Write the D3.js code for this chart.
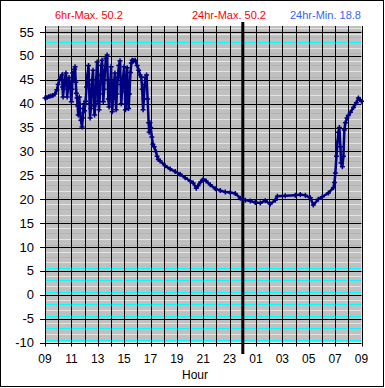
<!DOCTYPE html>
<html>
<head>
<meta charset="utf-8">
<script src="https://cdn.jsdelivr.net/npm/d3@7"></script>
<style>
  body { margin: 0; background: #fff; }
  svg { display: block; font-family: "Liberation Sans", Arial, sans-serif; }
</style>
</head>
<body>
<script>
// hour labels along the bottom (every 2 h, starting 09:00)
const hourLabels = ["09", "11", "13", "15", "17", "19", "21", "23", "01", "03", "05", "07", "09"];
const yTicks = [55, 50, 45, 40, 35, 30, 25, 20, 15, 10, 5, 0, -5, -10];

// header texts
const maxSixHr = 50.2;
const maxDay = 50.2;
const minDay = 18.8;

// readings: hours since 09:00, temperature
const hoursSince9 = [
  0.00, 0.15, 0.30, 0.45, 0.60, 0.75, 0.90, 1.00, 1.10, 1.20, 1.29, 1.33, 1.37, 1.42, 1.50, 1.59, 1.64, 1.68, 1.75, 1.82,
  1.90, 2.00, 2.05, 2.10, 2.18, 2.24, 2.28, 2.33, 2.38, 2.43, 2.48, 2.52, 2.56, 2.60, 2.66, 2.72, 2.81, 2.86, 2.92, 2.96,
  3.00, 3.08, 3.15, 3.22, 3.30, 3.34, 3.38, 3.42, 3.47, 3.52, 3.58, 3.64, 3.68, 3.72, 3.76, 3.82, 3.88, 3.95, 4.00, 4.05,
  4.10, 4.16, 4.22, 4.28, 4.33, 4.38, 4.42, 4.48, 4.55, 4.62, 4.71, 4.76, 4.80, 4.86, 4.92, 4.97, 5.01, 5.06, 5.10, 5.16,
  5.22, 5.30, 5.35, 5.39, 5.45, 5.52, 5.60, 5.69, 5.74, 5.78, 5.85, 5.92, 6.00, 6.05, 6.10, 6.16, 6.23, 6.28, 6.34, 6.40,
  6.48, 6.55, 6.61, 6.70, 6.83, 6.99, 7.10, 7.21, 7.30, 7.37, 7.44, 7.50, 7.56, 7.62, 7.70, 7.78, 7.86, 7.90, 7.96, 8.02,
  8.10, 8.18, 8.28, 8.40, 8.50, 8.60, 8.73, 9.11, 9.49, 9.87, 10.25, 10.63, 11.01, 11.24, 11.47, 11.60, 11.80, 12.00, 12.22, 12.53,
  12.91, 13.29, 13.67, 14.05, 14.43, 14.81, 15.19, 15.57, 15.95, 16.33, 16.70, 17.08, 17.46, 17.62, 18.22, 18.98, 19.36, 19.74, 20.12, 20.35,
  20.73, 21.03, 21.49, 21.87, 21.95, 22.02, 22.10, 22.18, 22.25, 22.32, 22.40, 22.45, 22.55, 22.63, 22.70, 22.78, 22.90, 23.00, 23.16, 23.39,
  23.61, 23.77, 23.90, 24.00
];
const temps = [
  41.2, 41.3, 41.5, 41.6, 41.7, 42.0, 42.9, 44.0, 45.0, 45.6, 46.0, 43.5, 41.4, 43.0, 45.0, 46.4, 44.0, 41.4, 43.5, 45.5,
  44.0, 40.4, 43.0, 46.4, 45.0, 47.2, 47.7, 44.5, 42.2, 41.2, 39.5, 37.6, 40.0, 41.4, 38.0, 36.5, 35.1, 37.0, 39.0, 40.0,
  38.5, 40.5, 43.5, 46.0, 48.0, 44.0, 40.0, 37.0, 39.0, 42.5, 45.0, 47.0, 43.0, 39.5, 37.6, 40.0, 45.0, 48.7, 44.0, 40.5,
  38.7, 42.0, 46.0, 48.0, 49.1, 45.0, 40.4, 43.0, 47.0, 49.5, 50.2, 45.0, 41.0, 39.3, 42.0, 45.0, 47.7, 43.0, 38.3, 41.0,
  44.0, 46.4, 42.0, 38.7, 42.0, 45.5, 48.0, 49.0, 44.0, 40.0, 42.5, 45.5, 47.7, 44.0, 38.7, 41.0, 47.5, 43.0, 39.0, 42.0,
  46.5, 48.5, 49.1, 49.0, 49.1, 48.0, 47.0, 46.0, 45.6, 43.0, 38.7, 41.0, 44.0, 45.5, 46.0, 41.0, 36.0, 34.0, 36.0, 35.0,
  33.0, 31.5, 31.0, 30.0, 29.0, 28.3, 28.0, 27.0, 26.3, 25.8, 25.2, 24.5, 23.8, 23.4, 22.3, 22.8, 23.6, 24.2, 23.8, 23.0,
  22.2, 21.8, 21.5, 21.4, 21.2, 20.2, 19.8, 19.6, 19.3, 19.2, 19.7, 19.0, 19.8, 20.6, 20.7, 20.8, 21.0, 20.8, 20.3, 18.8,
  20.0, 20.5, 21.3, 22.4, 23.5, 25.5, 29.0, 32.0, 34.0, 35.0, 31.0, 27.6, 26.8, 29.0, 34.5, 36.0, 37.0, 37.5, 38.2, 39.2,
  40.2, 41.2, 40.8, 40.5
];

const W = 385, H = 388;
const plotLeft = 45, plotRight = 361.5, plotTop = 26, plotBottom = 342.5;

const svg = d3.select("body").append("svg")
  .attr("width", W)
  .attr("height", H);

svg.append("rect")
  .attr("x", 0.5).attr("y", 0.5)
  .attr("width", 383).attr("height", 386)
  .attr("fill", "#fff").attr("stroke", "#000");

const x = d3.scaleLinear().domain([0, 24]).range([plotLeft, plotRight]);
const y = d3.scaleLinear().domain([-10, 55]).range([plotBottom, 32]);

// plot background
svg.append("rect")
  .attr("x", plotLeft).attr("y", plotTop)
  .attr("width", plotRight - plotLeft).attr("height", plotBottom - plotTop)
  .attr("fill", "#c0c0c0");

// stripes inside each 5-degree band: pale lines and cyan lines
const paleOffsets = [1, 3.25];
const cyanOffsets = [2, 4.5];
const bandTops = [56.25].concat(yTicks.slice(0, -1));
const stripe = (offs) => bandTops.flatMap(u => offs.map(o => (u === 56.25 ? 55 + 1.25 - o * 0.5 : u - o)));

svg.append("g").selectAll("line").data(stripe(paleOffsets)).join("line")
  .attr("x1", plotLeft).attr("x2", plotRight)
  .attr("y1", d => Math.round(y(d)) + 0.5).attr("y2", d => Math.round(y(d)) + 0.5)
  .attr("stroke", "#e4e4e4");

svg.append("g").selectAll("line").data(stripe(cyanOffsets)).join("line")
  .attr("x1", plotLeft).attr("x2", plotRight)
  .attr("y1", d => Math.round(y(d)) + 0.5).attr("y2", d => Math.round(y(d)) + 0.5)
  .attr("stroke", "#00ffff");

// major horizontal grid
svg.append("g").selectAll("line").data(yTicks).join("line")
  .attr("x1", plotLeft - 5).attr("x2", plotRight)
  .attr("y1", d => Math.round(y(d)) + 0.5).attr("y2", d => Math.round(y(d)) + 0.5)
  .attr("stroke", "#000");

// vertical grid every hour
svg.append("g").selectAll("line").data(d3.range(0, 25)).join("line")
  .attr("x1", d => Math.round(x(d)) + 0.5).attr("x2", d => Math.round(x(d)) + 0.5)
  .attr("y1", plotTop).attr("y2", plotBottom + 4)
  .attr("stroke", "#000");

// midnight marker
svg.append("line")
  .attr("x1", x(15)).attr("x2", x(15))
  .attr("y1", 22).attr("y2", 354)
  .attr("stroke", "#000").attr("stroke-width", 3);

// y labels
svg.append("g").selectAll("text").data(yTicks).join("text")
  .attr("x", 34).attr("y", d => y(d))
  .attr("dy", "0.35em")
  .attr("text-anchor", "end")
  .attr("font-size", 13)
  .text(d => d);

// x labels
svg.append("g").selectAll("text").data(hourLabels).join("text")
  .attr("x", (d, i) => x(i * 2)).attr("y", 363)
  .attr("text-anchor", "middle")
  .attr("font-size", 12)
  .text(d => d);

svg.append("text")
  .attr("x", 195).attr("y", 379)
  .attr("text-anchor", "middle")
  .attr("font-size", 12)
  .text("Hour");

// header
svg.append("text").attr("x", 55).attr("y", 19).attr("font-size", 11).attr("fill", "#ff0000")
  .text("6hr-Max. " + maxSixHr);
svg.append("text").attr("x", 192).attr("y", 19).attr("font-size", 11).attr("fill", "#ff0000")
  .text("24hr-Max. " + maxDay);
svg.append("text").attr("x", 290).attr("y", 19).attr("font-size", 11).attr("fill", "#3366ff")
  .text("24hr-Min. " + minDay);

// series
const pts = hoursSince9.map((h, i) => [h, temps[i]]);
const line = d3.line().x(d => x(d[0])).y(d => y(d[1]));

svg.append("path")
  .datum(pts)
  .attr("d", line)
  .attr("fill", "none")
  .attr("stroke", "#000080")
  .attr("stroke-width", 2.5);

svg.append("g").selectAll("path").data(pts).join("path")
  .attr("transform", d => `translate(${x(d[0])},${y(d[1])})`)
  .attr("d", "M-2.5,0H2.5M0,-2.5V2.5")
  .attr("stroke", "#000080")
  .attr("stroke-width", 1.5);
</script>
</body>
</html>
